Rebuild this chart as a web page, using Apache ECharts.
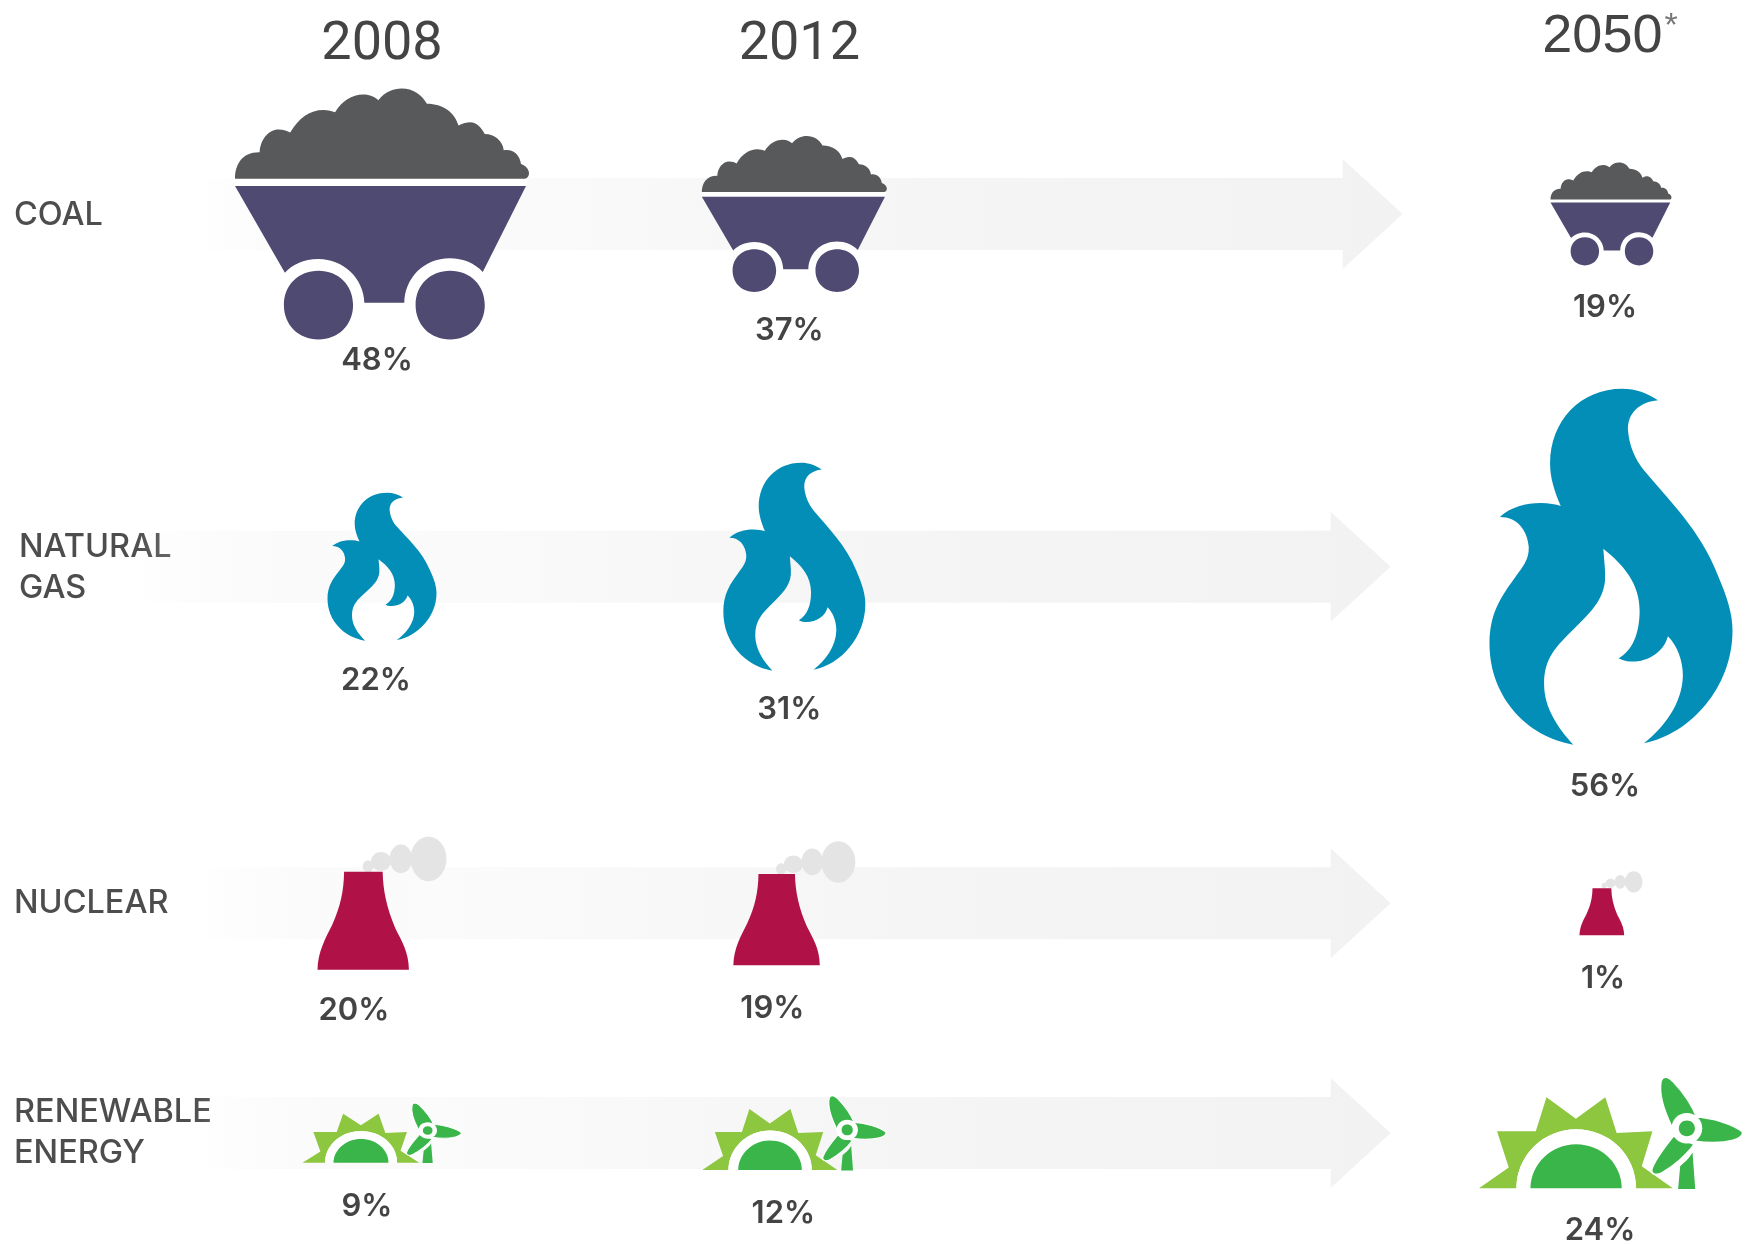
<!DOCTYPE html>
<html>
<head>
<meta charset="utf-8">
<title>Energy mix 2008 - 2050</title>
<style>
    html, body { margin: 0; padding: 0; background: #fff; }
    #main { width: 1750px; height: 1245px; }
</style>
<script src="https://cdn.jsdelivr.net/npm/echarts@6/dist/echarts.min.js"></script>
</head>
<body>
<div id="main"></div>
<script type="text/javascript">
    // blank entries keep the uneven spacing of the columns and rows
    var years = ['2008', '2012', '', '2050'];
    var sources = ['COAL', '', '', 'NATURAL\nGAS', '', '', 'NUCLEAR', '', 'RENEWABLE\nENERGY'];
    var yearColumns = [0, 1, 3];

    // share of the energy mix, %
    var coalShare = [48, 37, 19];
    var gasShare = [22, 31, 56];
    var nuclearShare = [20, 19, 1];
    var renewableShare = [9, 12, 24];

    var TEXT = '#444444';
    var LABEL_FONT = '600 31px Inter';

    // icon outlines
    var heap = 'M104 322C104 280 125 242 178 243C180 205 205 175 235 175C250 175 262 180 270 184C295 140 330 116 370 116C385 116 395 120 405 123C425 90 455 70 490 70C510 70 525 78 535 87C555 62 580 52 605 52C640 52 665 70 681 98C730 98 765 125 776 163C790 155 800 153 812 153C830 153 845 170 855 188C885 188 910 210 912 237C940 232 960 250 964 278C980 283 988 295 988 305C988 315 982 322 975 322Z';
    var heapGap = 'M104 322L988 322L979 344L104 344Z';
    var wheelGaps = 'M215 700C215 620 275 560 355 560C435 560 495 620 495 700C495 780 435 840 355 840C275 840 215 780 215 700ZM611 700C611 620 671 560 751 560C831 560 891 620 891 700C891 780 831 840 751 840C671 840 611 780 611 700Z';
    var cartBody = 'M104 344L979 344L849 601C825 575 790 560 750 560C670 560 615 620 613 693L493 693C491 620 430 562 355 562C310 562 275 580 254 603Z';
    var wheels = 'M251 700C251 640 295 597 355 597C415 597 459 640 459 700C459 760 415 803 355 803C295 803 251 760 251 700ZM647 700C647 640 691 597 751 597C811 597 855 640 855 700C855 760 811 803 751 803C691 803 647 760 647 700Z';
    var flame = 'M592 90C540 95 500 125 502 180C505 225 525 270 550 300C620 385 720 480 770 610C800 680 816 730 816 780C816 950 690 1090 550 1118C610 1070 665 1000 667 915C667 870 650 825 622 797C610 845 560 875 510 873C495 873 485 868 474 863C515 840 537 790 537 720C537 640 490 585 428 535C430 570 435 600 433 630C428 690 385 730 340 775C290 825 250 860 250 940C250 1010 290 1070 338 1122C200 1100 86 980 86 820C86 730 120 680 160 625C185 590 205 570 204 530C200 480 170 440 117 440C150 410 195 398 240 398C265 398 285 402 300 407C280 360 268 320 268 280C268 150 360 55 485 55C525 55 560 68 592 90Z';
    var tower = 'M161 151L277 151C278 210 290 260 315 320C335 360 355 390 356 444L81 444C82 390 105 350 125 310C150 255 160 210 161 151Z';
    var smoke = 'M361 112C361 75 385 46 415 46C445 46 469 75 469 112C469 149 445 179 415 179C385 179 361 149 361 112ZM298 112C298 88 313 69 332 69C351 69 366 88 366 112C366 136 351 155 332 155C313 155 298 136 298 112ZM242 120C242 104 255 92 272 92C289 92 302 104 302 120C302 136 289 148 272 148C255 148 242 136 242 120ZM217 135C217 125 224 117 233 117C242 117 249 125 249 135C249 145 242 153 233 153C224 153 217 145 217 135Z';
    var sunRays = 'M58 383L147 320L112 211L228 211L260 108L348 173L436 108L470 216L577 211L545 316L638 383L528 383C528 285 450 205 348 205C250 205 170 285 170 383Z';
    var sunRing = 'M170 383C170 285 250 205 348 205C450 205 528 285 528 383Z';
    var sunDome = 'M212 383C212 310 275 250 348 250C425 250 485 310 485 383Z';
    var blades = 'M636 200C612 150 595 95 603 58C608 44 622 44 638 60C668 92 695 130 710 170ZM700 167C760 170 820 190 846 212C850 222 838 233 818 238C780 248 740 246 700 240ZM640 225C612 260 585 295 575 325C572 342 590 345 606 336C640 316 680 282 702 250Z';
    var hubRing = 'M634 202C634 176 654 156 680 156C706 156 726 176 726 202C726 228 706 248 680 248C654 248 634 228 634 202Z';
    var hub = 'M656 202C656 188 666 178 680 178C694 178 704 188 704 202C704 216 694 226 680 226C666 226 656 216 656 202Z';
    var mast = 'M697 275L705 385L654 385L660 316C672 306 688 292 697 275Z';

    var coalIcon = {
        box: [104, 52, 884, 751],
        parts: [[heapGap, '#ffffff'], [heap, '#58595b'], [wheelGaps, '#ffffff'], [cartBody, '#4f4a72'], [wheels, '#4f4a72']]
    };
    var gasIcon = { box: [86, 55, 730, 1067], parts: [[flame, '#038eb8']] };
    var nuclearIcon = { box: [81, 46, 388, 398], parts: [[smoke, '#e4e4e4'], [tower, '#b01248']] };
    var renewableIcon = {
        box: [58, 47, 790, 338],
        parts: [[sunRays, '#8dc63f'], [sunRing, '#ffffff'], [sunDome, '#39b54a'], [blades, '#39b54a', true], [mast, '#39b54a'], [hubRing, '#ffffff'], [hub, '#39b54a']]
    };

    // icon [width, height] and percent label [dx, dy] for each column, in px
    var coalSizes = [[294, 251], [185, 156], [121, 103]];
    var coalLabels = [[-5, 147], [-2, 117], [-5, 94]];
    var gasSizes = [[109, 148], [142, 208], [243, 356]];
    var gasLabels = [[-6, 122], [-2, 151], [-5, 228]];
    var nuclearSizes = [[129, 133], [122, 124], [63, 64]];
    var nuclearLabels = [[-28, 107], [-19, 105], [-7, 75]];
    var renewableSizes = [[159, 60], [184, 75], [264, 112]];
    var renewableLabels = [[-15, 74], [-8, 81], [-10, 98]];
    var iconShift = [0, 3, 1];

    function iconSeries(name, row, shares, icon, sizes, labels, rowShift) {
        return {
            name: name,
            type: 'custom',
            coordinateSystem: 'cartesian2d',
            silent: true,
            z: 3,
            encode: { x: 0, y: 1 },
            data: shares.map(function (share, i) {
                return [yearColumns[i], row, share];
            }),
            renderItem: function (params, api) {
                var i = params.dataIndex;
                var at = api.coord([api.value(0), api.value(1)]);
                var size = sizes[i];
                var sx = size[0] / icon.box[2];
                var sy = size[1] / icon.box[3];
                return {
                    type: 'group',
                    children: [{
                        type: 'group',
                        x: at[0] + iconShift[i] - size[0] / 2 - icon.box[0] * sx,
                        y: at[1] + rowShift - size[1] / 2 - icon.box[1] * sy,
                        scaleX: sx,
                        scaleY: sy,
                        children: icon.parts.map(function (part) {
                            return {
                                type: 'path',
                                shape: { pathData: part[0] },
                                style: part[2]
                                    ? { fill: part[1], stroke: '#ffffff', lineWidth: 5 }
                                    : { fill: part[1] }
                            };
                        })
                    }, {
                        type: 'text',
                        x: at[0] + labels[i][0],
                        y: at[1] + labels[i][1],
                        style: {
                            text: api.value(2) + '%',
                            font: LABEL_FONT,
                            fill: TEXT,
                            align: 'center',
                            verticalAlign: 'middle'
                        }
                    }]
                };
            }
        };
    }

    // arrow behind each row, running from the 2008 column to the blank column
    var arrowRows = [0, 3, 6, 8];
    var arrowSeries = {
        name: 'Trend',
        type: 'custom',
        coordinateSystem: 'cartesian2d',
        silent: true,
        z: 1,
        encode: { x: 0, y: 1 },
        data: arrowRows.map(function (row) { return [2, row]; }),
        renderItem: function (params, api) {
            var row = api.value(1);
            var first = row === 0;
            var start = api.coord([0, row]);
            var end = api.coord([2, row]);
            var y = end[1] + (row === 3 ? 8 : 0);
            var left = start[0] - (row === 3 ? 250 : 190);
            var neck = end[0] + (first ? 142 : 130);
            var tip = end[0] + (first ? 202 : 190);
            return {
                type: 'polygon',
                shape: {
                    points: [[left, y - 36], [neck, y - 36], [neck, y - 55], [tip, y], [neck, y + 55], [neck, y + 36], [left, y + 36]]
                },
                style: {
                    // transparent start, the row labels lie under this end
                    fill: new echarts.graphic.LinearGradient(0, 0, 1, 0, [
                        { offset: 0, color: 'rgba(242,242,242,0)' },
                        { offset: 0.2, color: '#fbfbfb' },
                        { offset: 0.6, color: '#f5f5f5' },
                        { offset: 1, color: '#f2f2f2' }
                    ])
                }
            };
        }
    };

    var myChart = echarts.init(document.getElementById('main'));

    // per label nudges, vertical padding only counts when the label is top aligned
    var rowLabelPadding = {
        'COAL': [-19, 0, 0, 0],
        'NATURAL\nGAS': [-32, 0, 0, 5],
        'RENEWABLE\nENERGY': [-41, 0, 0, 0]
    };

    var option = {
        animation: false,
        backgroundColor: '#ffffff',
        grid: { left: 382, right: 140, top: 214, bottom: 112, outerBoundsMode: 'none' },
        xAxis: {
            type: 'category',
            position: 'top',
            boundaryGap: false,
            data: years.map(function (y) {
                return y === '2012' ? { value: y, textStyle: { padding: [0, 0, 0, 16] } } : y;
            }),
            axisLine: { show: false },
            axisTick: { show: false },
            splitLine: { show: false },
            axisLabel: {
                interval: 0,
                margin: 142,
                color: TEXT,
                fontFamily: 'Roboto',
                fontSize: 54,
                formatter: function (v) {
                    return v === '2050' ? '{late|2050}{star|*}' : v;
                },
                rich: {
                    late: { fontFamily: 'Liberation Sans', fontSize: 54, color: TEXT, padding: [0, 0, 8, 0] },
                    star: { fontFamily: 'Liberation Sans', fontSize: 34, color: '#777777', verticalAlign: 'top', padding: [0, 0, 0, 2] }
                }
            }
        },
        yAxis: {
            type: 'category',
            inverse: true,
            boundaryGap: false,
            data: sources.map(function (s) {
                return rowLabelPadding[s]
                    ? { value: s, textStyle: { align: 'left', verticalAlign: 'top', padding: rowLabelPadding[s] } }
                    : s;
            }),
            axisLine: { show: false },
            axisTick: { show: false },
            splitLine: { show: false },
            axisLabel: {
                interval: 0,
                margin: 368,
                align: 'left',
                color: '#4d4d4d',
                fontFamily: 'Inter',
                fontWeight: 500,
                fontSize: 32.5,
                lineHeight: 41
            }
        },
        series: [
            arrowSeries,
            iconSeries('Coal', 0, coalShare, coalIcon, coalSizes, coalLabels, 0),
            iconSeries('Natural gas', 3, gasShare, gasIcon, gasSizes, gasLabels, 8),
            iconSeries('Nuclear', 6, nuclearShare, nuclearIcon, nuclearSizes, nuclearLabels, 0),
            iconSeries('Renewable energy', 8, renewableShare, renewableIcon, renewableSizes, renewableLabels, 0)
        ]
    };

    myChart.setOption(option);
</script>
</body>
</html>
